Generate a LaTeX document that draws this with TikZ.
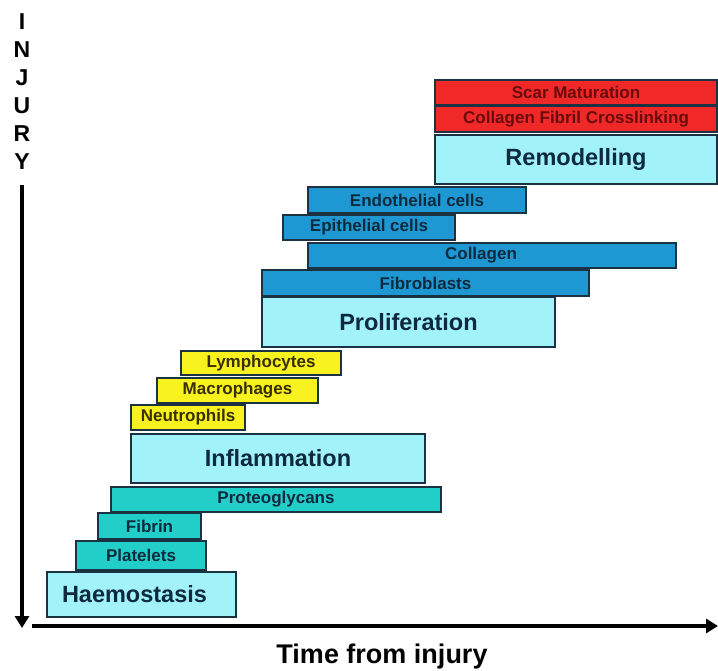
\documentclass[tikz,border=0pt]{standalone}
\usepackage{fontspec}
\setmainfont{Liberation Sans}
\usetikzlibrary{arrows.meta}
\definecolor{cRed}{HTML}{F02828}
\definecolor{cLight}{HTML}{A2F2FA}
\definecolor{cBlue}{HTML}{1E98D2}
\definecolor{cYel}{HTML}{F8F21E}
\definecolor{cTeal}{HTML}{22CEC8}
\definecolor{cEdge}{HTML}{1A3242}
\definecolor{cTxt}{HTML}{0E2A3E}
\definecolor{cRedTxt}{HTML}{6A0C0C}
\definecolor{cYelTxt}{HTML}{383000}
\tikzset{
  x=1pt,y=-1pt,
  bar/.style={draw=cEdge,line width=1.5pt,inner sep=0pt,outer sep=0pt,anchor=north west,text=cTxt},
  big/.style={bar,fill=cLight,font=\bfseries\fontsize{23.5}{28}\selectfont},
  small/.style={bar,font=\bfseries\fontsize{17}{20}\selectfont},
  redbar/.style={small,fill=cRed,text=cRedTxt},
  bluebar/.style={small,fill=cBlue},
  yelbar/.style={small,fill=cYel,text=cYelTxt},
  tealbar/.style={small,fill=cTeal},
  axis/.style={line width=4pt,-{Triangle[width=14pt,length=12pt]}}
}
\newcommand{\bx}[7]{\node[#1,minimum width=#4pt,minimum height=#5pt] (#2) at (#3) {#6};}
\begin{document}
\begin{tikzpicture}
\useasboundingbox (0,0) rectangle (718,671);
% phases and components
\node[redbar,minimum width=282pt,minimum height=25pt] (scar) at (435,80) {Scar Maturation};
\node[redbar,minimum width=282pt,minimum height=26pt] (cross) at (435,106) {Collagen Fibril Crosslinking};
\node[big,minimum width=282pt,minimum height=49pt] (remod) at (435,135) {Remodelling};
\node[bluebar,minimum width=218pt,minimum height=26pt] (endo) at (308,187) {Endothelial cells};
\node[bluebar,minimum width=172pt,minimum height=25pt] (epi) at (283,215) {Epithelial cells};
\node[bluebar,minimum width=368pt,minimum height=25pt,text width=368pt,align=center] (coll) at (308,243) {\hspace*{-22pt}Collagen};
\node[bluebar,minimum width=327pt,minimum height=26pt] (fibro) at (262,270) {Fibroblasts};
\node[big,minimum width=293pt,minimum height=50pt] (prolif) at (262,297) {Proliferation};
\node[yelbar,minimum width=160pt,minimum height=24pt] (lymph) at (181,351) {Lymphocytes};
\node[yelbar,minimum width=161pt,minimum height=25pt] (macro) at (157,378) {Macrophages};
\node[yelbar,minimum width=114pt,minimum height=25pt] (neut) at (131,405) {Neutrophils};
\node[big,minimum width=294pt,minimum height=49pt] (infl) at (131,434) {Inflammation};
\node[tealbar,minimum width=330pt,minimum height=25pt] (proteo) at (111,487) {Proteoglycans};
\node[tealbar,minimum width=103pt,minimum height=26pt] (fibrin) at (98,513) {Fibrin};
\node[tealbar,minimum width=130pt,minimum height=29pt] (plate) at (76,541) {Platelets};
\node[big,minimum width=189pt,minimum height=45pt,text width=189pt,align=center] (haemo) at (47,572) {\hspace*{-14pt}Haemostasis};
% axes
\coordinate (vtop) at (22,185);
\coordinate (vbot) at (22,628);
\coordinate (hleft) at (32,626);
\coordinate (hright) at (718,626);
\draw[axis] (vtop) -- (vbot);
\draw[axis] (hleft) -- (hright);
\node[font=\bfseries\fontsize{23}{28}\selectfont,align=center,inner sep=0pt,anchor=north] (injury) at (22,13) {I\\N\\J\\U\\R\\Y};
\node[font=\bfseries\fontsize{27}{32}\selectfont,inner sep=0pt,anchor=north] (time) at (382,644) {Time from injury};
\end{tikzpicture}
\end{document}
